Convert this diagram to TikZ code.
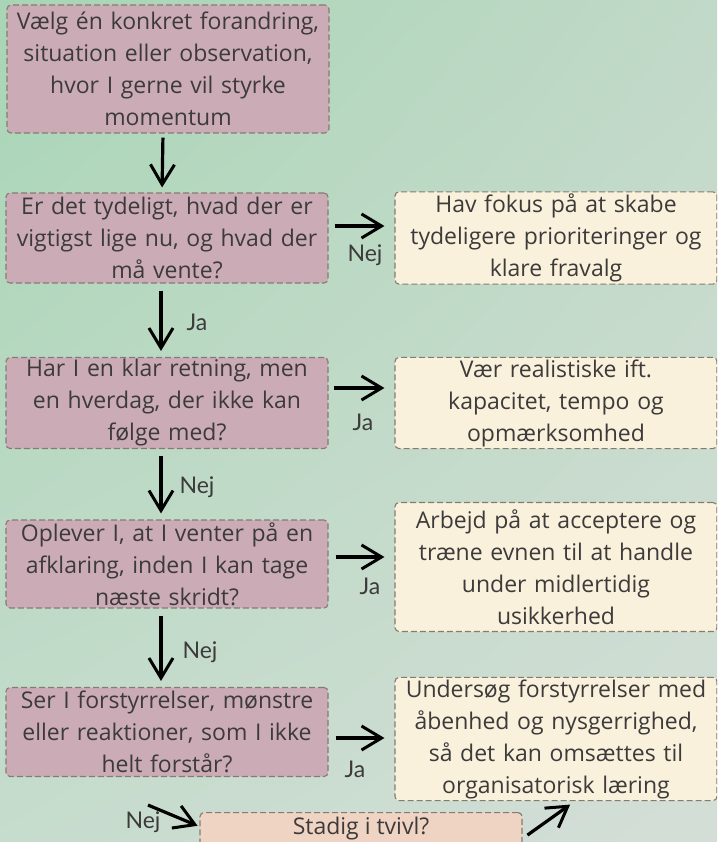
\documentclass[tikz,border=0pt]{standalone}
\usepackage{fontspec}
\setmainfont{Open Sans}
\newfontfamily\handfont{Lato}
\usetikzlibrary{arrows.meta,shadings}

\definecolor{bgA}{HTML}{A8D5B5}
\definecolor{bgB}{HTML}{C1D9C8}
\definecolor{bgC}{HTML}{C6DCCD}
\definecolor{bgD}{HTML}{D4DED7}
\definecolor{qfill}{HTML}{CBACB6}
\definecolor{afill}{HTML}{FAF1DC}
\definecolor{dfill}{HTML}{F0D4C3}
\definecolor{rim}{HTML}{857C70}
\definecolor{ink}{HTML}{3C3A3A}

\begin{document}
\begin{tikzpicture}
  [x=1pt,y=-1pt,
   box/.style={draw=rim,line width=1.1pt,dash pattern=on 6pt off 3pt,rounded corners=4pt,
     text=ink,align=center,font=\fontsize{23}{32}\selectfont,inner sep=2pt},
   question/.style={box,fill=qfill,minimum width=322pt,text width=318pt},
   answer/.style={box,fill=afill,minimum width=321pt,text width=318pt},
   doubt/.style={box,fill=dfill,minimum width=322pt,text width=318pt},
   lbl/.style={text=ink,font=\handfont\fontsize{23}{24}\selectfont},
   flow/.style={line width=3.2pt,-{Straight Barb[length=20pt,width=24pt,line width=3pt]}}]
  \useasboundingbox (0,0) rectangle (717,842);
  \clip (0,0) rectangle (717,842);
  \shade[upper left=bgA,upper right=bgB,lower left=bgC,lower right=bgD] (0,0) rectangle (717,842);

  \node[question,minimum height=128pt] (q0) at (168,69)
    {Vælg én konkret forandring,\\situation eller observation,\\hvor I gerne vil styrke\\momentum};
  \node[question,minimum height=90pt] (q1) at (167,238)
    {Er det tydeligt, hvad der er\\vigtigst lige nu, og hvad der\\må vente?};
  \node[answer,minimum height=90pt] (a1) at (556,238)
    {Hav fokus på at skabe\\tydeligere prioriteringer og\\klare fravalg};
  \node[question,minimum height=85pt] (q2) at (167,403)
    {Har I en klar retning, men\\en hverdag, der ikke kan\\følge med?};
  \node[answer,minimum height=85pt] (a2) at (556,403)
    {Vær realistiske ift.\\kapacitet, tempo og\\opmærksomhed};
  \node[question,minimum height=88pt] (q3) at (167,564)
    {Oplever I, at I venter på en\\afklaring, inden I kan tage\\næste skridt?};
  \node[answer,minimum height=129pt] (a3) at (556,567)
    {Arbejd på at acceptere og\\træne evnen til at handle\\under midlertidig\\usikkerhed};
  \node[question,minimum height=89pt] (q4) at (167,732)
    {Ser I forstyrrelser, mønstre\\eller reaktioner, som I ikke\\helt forstår?};
  \node[answer,minimum height=122pt] (a4) at (556,739)
    {Undersøg forstyrrelser med\\åbenhed og nysgerrighed,\\så det kan omsættes til\\organisatorisk læring};
  \node[doubt,minimum height=40pt,anchor=north] (d) at (361,812) {};
  \node[text=ink,font=\fontsize{23}{24}\selectfont] (dt) at (361,829) {Stadig i tvivl?};

  % down the left column
  \draw[flow,shorten <=4pt,shorten >=5pt] ([xshift=-5pt]q0.south) -- ([xshift=-5pt]q1.north);
  \foreach \from/\to in {q1/q2,q2/q3,q3/q4}
    \draw[flow,shorten <=7pt,shorten >=6pt] ([xshift=-6pt]\from.south) -- ([xshift=-6pt]\to.north);

  % across to the answers
  \draw[flow,shorten <=6pt,shorten >=10pt] ([yshift=12pt]q1.east) -- ([yshift=12pt]a1.west);
  \draw[flow,shorten <=5pt,shorten >=10pt] ([yshift=15pt]q2.east) -- ([yshift=15pt]a2.west);
  \draw[flow,shorten <=7pt,shorten >=10pt] ([yshift=7pt]q3.east) -- ([yshift=10pt]a3.west);
  \draw[flow,shorten <=7pt,shorten >=10pt] ([yshift=-6pt]q4.east) -- ([yshift=1pt]a4.west);

  % the last question
  \draw[flow,shorten >=2pt] ([xshift=-19pt,yshift=-28pt]q4.south) -- ([yshift=6pt]d.west);
  \draw[flow,shorten <=6pt,shorten >=6pt] ([yshift=-6pt]d.east) -- ([xshift=19pt]a4.south);

  \node[lbl] (l1) at (365,255) {Nej};
  \node[lbl] (l2) at (197,322) {Ja};
  \node[lbl] (l3) at (363,422) {Ja};
  \node[lbl] (l4) at (197,487) {Nej};
  \node[lbl] (l5) at (370,586) {Ja};
  \node[lbl] (l6) at (200,652) {Nej};
  \node[lbl] (l7) at (355,769) {Ja};
  \node[lbl] (l8) at (143,822) {Nej};
\end{tikzpicture}
\end{document}
